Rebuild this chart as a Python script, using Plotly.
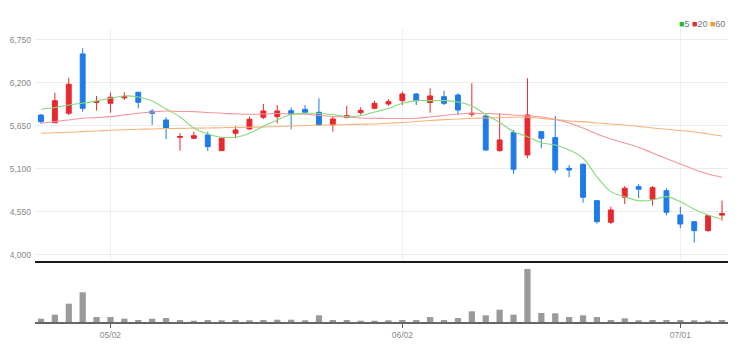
import plotly.graph_objects as go

dates = ["2022-04-25", "2022-04-26", "2022-04-27", "2022-04-28", "2022-04-29",
         "2022-05-02", "2022-05-03", "2022-05-04", "2022-05-06",
         "2022-05-09", "2022-05-10", "2022-05-11", "2022-05-12", "2022-05-13",
         "2022-05-16", "2022-05-17", "2022-05-18", "2022-05-19", "2022-05-20",
         "2022-05-23", "2022-05-24", "2022-05-25", "2022-05-26", "2022-05-27",
         "2022-05-30", "2022-05-31", "2022-06-02", "2022-06-03",
         "2022-06-07", "2022-06-08", "2022-06-09", "2022-06-10",
         "2022-06-13", "2022-06-14", "2022-06-15", "2022-06-16", "2022-06-17",
         "2022-06-20", "2022-06-21", "2022-06-22", "2022-06-23", "2022-06-24",
         "2022-06-27", "2022-06-28", "2022-06-29", "2022-06-30", "2022-07-01",
         "2022-07-04", "2022-07-05", "2022-07-06"]

open_ = [5790, 5692, 5812, 6571, 5950, 5940, 6010, 6081, 5840, 5727,
         5505, 5493, 5535, 5334, 5557, 5612, 5761, 5769, 5846, 5863,
         5825, 5663, 5757, 5820, 5876, 5931, 5973, 6059, 5950, 6025,
         6046, 5800, 5778, 5334, 5565, 5279, 5577, 5501, 5108, 5160,
         4695, 4418, 4738, 4874, 4713, 4822, 4512, 4426, 4311, 4510]
high = [5800, 6076, 6268, 6644, 6034, 6076, 6081, 6085, 5865, 5761,
        5557, 5577, 5577, 5500, 5650, 5769, 5931, 5918, 5889, 5918,
        6004, 5769, 5906, 5889, 5973, 5995, 6089, 6068, 6132, 6102,
        6068, 6196, 5790, 5812, 5599, 6260, 5580, 5778, 5151, 5173,
        4700, 4618, 4882, 4908, 4882, 4853, 4618, 4430, 4510, 4695]
low = [5680, 5690, 5790, 5833, 5846, 5820, 5983, 5876, 5663, 5480,
       5333, 5480, 5330, 5330, 5493, 5599, 5739, 5684, 5608, 5800,
       5654, 5577, 5748, 5795, 5863, 5906, 5918, 5918, 5820, 5918,
       5790, 5769, 5330, 5322, 5036, 5237, 5365, 5045, 4993, 4669,
       4400, 4396, 4652, 4725, 4631, 4507, 4341, 4157, 4300, 4439]
close = [5705, 5973, 6183, 5876, 5965, 6017, 6030, 5953, 5812, 5620,
         5515, 5526, 5385, 5493, 5599, 5736, 5842, 5842, 5800, 5825,
         5663, 5740, 5782, 5850, 5940, 5961, 6059, 5973, 6034, 5940,
         5854, 5812, 5343, 5471, 5096, 5791, 5493, 5087, 5087, 4738,
         4426, 4576, 4853, 4841, 4861, 4546, 4396, 4311, 4503, 4530]

ma5 = [5864, 5887, 5919, 5940, 5970, 6004, 6034, 6021, 5970, 5867,
       5765, 5624, 5548, 5505, 5505, 5557, 5644, 5727, 5797, 5812,
       5810, 5797, 5769, 5784, 5829, 5874, 5940, 5974, 5974, 5974,
       5957, 5906, 5797, 5695, 5577, 5513, 5436, 5407, 5343, 5237,
       5001, 4810, 4746, 4694, 4703, 4746, 4682, 4584, 4512, 4457]
ma20 = [5684, 5707, 5727, 5748, 5759, 5769, 5791, 5812, 5829, 5842,
        5835, 5833, 5823, 5812, 5806, 5800, 5803, 5810, 5803, 5800,
        5784, 5771, 5765, 5752, 5748, 5746, 5746, 5748, 5765, 5784,
        5803, 5812, 5810, 5803, 5791, 5780, 5765, 5733, 5688, 5624,
        5548, 5484, 5432, 5377, 5305, 5234, 5164, 5094, 5036, 4994]
ma60 = [5557, 5563, 5569, 5577, 5586, 5595, 5601, 5608, 5612, 5617,
        5619, 5622, 5624, 5628, 5631, 5633, 5637, 5644, 5650, 5656,
        5660, 5663, 5668, 5672, 5676, 5684, 5695, 5707, 5720, 5731,
        5739, 5748, 5752, 5759, 5761, 5761, 5746, 5733, 5714, 5705,
        5688, 5676, 5663, 5644, 5624, 5608, 5592, 5573, 5548, 5522]

volume = [330000, 730000, 1830000, 2970000, 500000, 500000, 330000, 200000, 330000, 400000,
          200000, 130000, 200000, 170000, 200000, 170000, 200000, 230000, 230000, 170000,
          670000, 200000, 200000, 130000, 130000, 170000, 200000, 200000, 500000, 200000,
          400000, 1070000, 670000, 1230000, 730000, 5300000, 900000, 870000, 500000, 670000,
          500000, 200000, 370000, 170000, 200000, 200000, 200000, 170000, 130000, 200000]

price_ticks = [4000, 4550, 5100, 5650, 6200, 6750]
x_tick_dates = ["2022-05-02", "2022-06-02", "2022-07-01"]
x_tick_text = ["05/02", "06/02", "07/01"]
ma_names = ["5", "20", "60"]

RED = "#e8282e"
BLUE = "#1f7be8"
GREEN_MA = "#86d97a"
PINK_MA = "#f2969a"
ORANGE_MA = "#f6b47a"
FONT = "Liberation Sans, Arial, sans-serif"

fig = go.Figure()

fig.add_trace(go.Candlestick(
    x=dates, open=open_, high=high, low=low, close=close,
    increasing=dict(line=dict(color=RED, width=1), fillcolor=RED),
    decreasing=dict(line=dict(color=BLUE, width=1), fillcolor=BLUE),
    whiskerwidth=0, xaxis="x", yaxis="y", showlegend=False, hoverinfo="skip"))

for vals, col in [(ma60, ORANGE_MA), (ma20, PINK_MA), (ma5, GREEN_MA)]:
    fig.add_trace(go.Scatter(x=dates, y=vals, mode="lines",
                             line=dict(color=col, width=1.1, shape="spline"),
                             xaxis="x", yaxis="y", showlegend=False, hoverinfo="skip"))

fig.add_trace(go.Bar(x=dates, y=volume, marker=dict(color="#9a9a9a", line=dict(width=0)),
                     width=0.45, xaxis="x2", yaxis="y2", showlegend=False, hoverinfo="skip"))

# page body has an 8px default margin, so the figure is sized to fit inside the window
fig.update_layout(
    width=736, height=355,
    margin=dict(l=27, r=16, t=20, b=41, autoexpand=False),
    paper_bgcolor="white", plot_bgcolor="white",
    boxgap=0.5,
    showlegend=False,
    xaxis=dict(type="category", domain=[0, 1], anchor="y", range=[-0.43, 49.43],
               rangeslider=dict(visible=False), automargin=False,
               tickvals=x_tick_dates, ticktext=["", "", ""], showticklabels=False,
               showgrid=True, gridcolor="#efefef", gridwidth=1,
               showline=True, linecolor="#1a1a1a", linewidth=2, zeroline=False, ticks=""),
    yaxis=dict(domain=[0.2075, 1], anchor="x", range=[3923, 6903], automargin=False,
               tickvals=price_ticks, tickformat=",d",
               showgrid=True, gridcolor="#ececec", gridwidth=1, zeroline=False,
               tickfont=dict(family=FONT, size=8.5, color="#888888"), ticks="",
               ticklabelstandoff=3, showline=False),
    xaxis2=dict(type="category", domain=[0, 1], anchor="y2", matches="x", automargin=False,
                tickvals=x_tick_dates, ticktext=x_tick_text,
                tickfont=dict(family=FONT, size=8.5, color="#8a8a8a"),
                ticks="outside", ticklen=4, tickcolor="#555555", tickwidth=1,
                showgrid=False, showline=True, linecolor="#666666", linewidth=2,
                zeroline=False),
    yaxis2=dict(domain=[0, 0.194], anchor="x2", range=[0, 5700000], automargin=False,
                showgrid=False, showticklabels=False, zeroline=False, ticks=""),
)

legend_text = ("<span style='color:#22b830'>■</span>" + ma_names[0] + " "
               "<span style='color:#e8282e'>■</span>" + ma_names[1] + " "
               "<span style='color:#f39a2c'>■</span>" + ma_names[2])
fig.add_annotation(text=legend_text, xref="paper", yref="paper", x=0.999, y=1.012,
                   xanchor="right", yanchor="middle", showarrow=False,
                   font=dict(family=FONT, size=9, color="#777777"))

fig.write_html("out.html")
